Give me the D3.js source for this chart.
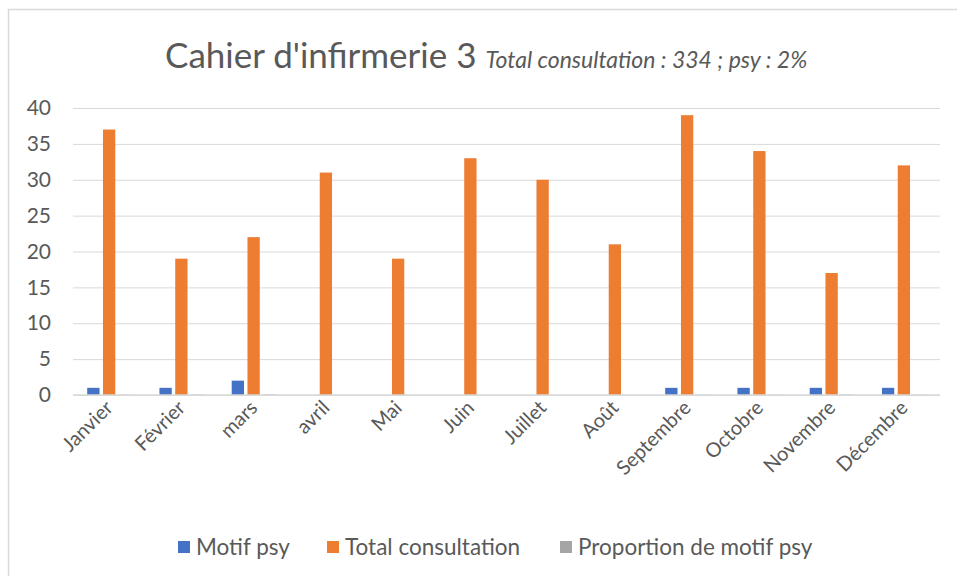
<!DOCTYPE html>
<html>
<head>
<meta charset="utf-8">
<script src="https://cdn.jsdelivr.net/npm/d3@7"></script>
<style>
  body { margin: 0; background: #fff; }
  text { font-family: Lato, "Open Sans", sans-serif; fill: #595959; }
</style>
</head>
<body>
<div id="chart"></div>
<script>
// Cahier d'infirmerie 3 - consultations per month

const months = ["Janvier", "Février", "mars", "avril", "Mai", "Juin", "Juillet", "Août", "Septembre", "Octobre", "Novembre", "Décembre"];
const motifPsy = [1, 1, 2, 0, 0, 0, 0, 0, 1, 1, 1, 1];
const totalConsultation = [37, 19, 22, 31, 19, 33, 30, 21, 39, 34, 17, 32];
const proportionPsy = [0.03, 0.05, 0.09, 0, 0, 0, 0, 0, 0.03, 0.03, 0.06, 0.03];
const seriesNames = ["Motif psy", "Total consultation", "Proportion de motif psy"];
const seriesColors = ["#4472c4", "#ed7d31", "#a5a5a5"];
const yTicks = [0, 5, 10, 15, 20, 25, 30, 35, 40];

(function() {
    const W = 957, H = 576;
    const plot = {left: 73, right: 940, top: 108, bottom: 395};

    const svg = d3.select("#chart")
        .append("svg")
        .attr("width", W)
        .attr("height", H);

    // chart area border
    svg.append("rect")
        .attr("x", 8.5).attr("y", 9.5)
        .attr("width", 960).attr("height", 590)
        .attr("fill", "#fff")
        .attr("stroke", "#d9d9d9")
        .attr("stroke-width", 1.5);

    const rows = months.map((m, i) => ({
        month: m,
        values: [motifPsy[i], totalConsultation[i], proportionPsy[i]]
    }));

    const x0 = d3.scaleBand()
        .domain(months)
        .range([plot.left, plot.right])
        .padding(0);

    const x1 = d3.scaleBand()
        .domain(d3.range(seriesNames.length))
        .range([0, x0.bandwidth()])
        .paddingInner(0.22)
        .paddingOuter(0.9);

    const y = d3.scaleLinear()
        .domain([0, 40])
        .range([plot.bottom, plot.top]);

    // gridlines
    svg.append("g")
        .attr("transform", `translate(${plot.left},0)`)
        .call(d3.axisLeft(y).tickValues(yTicks).tickSize(-(plot.right - plot.left)).tickFormat(""))
        .call(g => g.select(".domain").remove())
        .call(g => g.selectAll("line").attr("stroke", "#d9d9d9").attr("stroke-width", 1));

    // y labels
    svg.append("g")
        .attr("transform", `translate(${plot.left},0)`)
        .call(d3.axisLeft(y).tickValues(yTicks).tickSize(0).tickPadding(22))
        .call(g => g.select(".domain").remove())
        .call(g => g.selectAll("text").attr("font-size", 21).style("font-family", "Lato, sans-serif").attr("fill", "#595959"));

    // bars
    const groups = svg.append("g")
        .selectAll("g")
        .data(rows)
        .join("g")
        .attr("transform", d => `translate(${x0(d.month)},0)`);

    groups.selectAll("rect")
        .data(d => d.values.map((v, k) => ({k, v})))
        .join("rect")
        .attr("x", d => x1(d.k))
        .attr("y", d => y(d.v))
        .attr("width", x1.bandwidth())
        .attr("height", d => y(0) - y(d.v))
        .attr("fill", d => seriesColors[d.k]);

    // baseline
    svg.append("line")
        .attr("x1", plot.left).attr("x2", plot.right)
        .attr("y1", y(0)).attr("y2", y(0))
        .attr("stroke", "#d9d9d9")
        .attr("stroke-width", 1.5);

    // x labels
    svg.append("g")
        .selectAll("text")
        .data(months)
        .join("text")
        .attr("transform", d => `translate(${x0(d) + x0.bandwidth() / 2 + 5},${plot.bottom + 14}) rotate(-45)`)
        .attr("text-anchor", "end")
        .attr("font-size", 20)
        .text(d => d);

    // title
    const title = svg.append("text")
        .attr("x", 165)
        .attr("y", 68);
    title.append("tspan")
        .attr("font-size", 35)
        .text("Cahier d'infirmerie 3");
    title.append("tspan")
        .attr("font-size", 23)
        .attr("font-style", "italic")
        .attr("dx", 9)
        .text("Total consultation : 334 ; psy : 2%");

    // legend
    const legendX = [178, 327, 560];
    const legend = svg.append("g")
        .selectAll("g")
        .data(seriesNames)
        .join("g")
        .attr("transform", (d, i) => `translate(${legendX[i]},547)`);
    legend.append("rect")
        .attr("x", 0).attr("y", -6)
        .attr("width", 12).attr("height", 12)
        .attr("fill", (d, i) => seriesColors[i]);
    legend.append("text")
        .attr("x", 18)
        .attr("y", 8)
        .attr("font-size", 22.5)
        .text(d => d);
})();
</script>
</body>
</html>
